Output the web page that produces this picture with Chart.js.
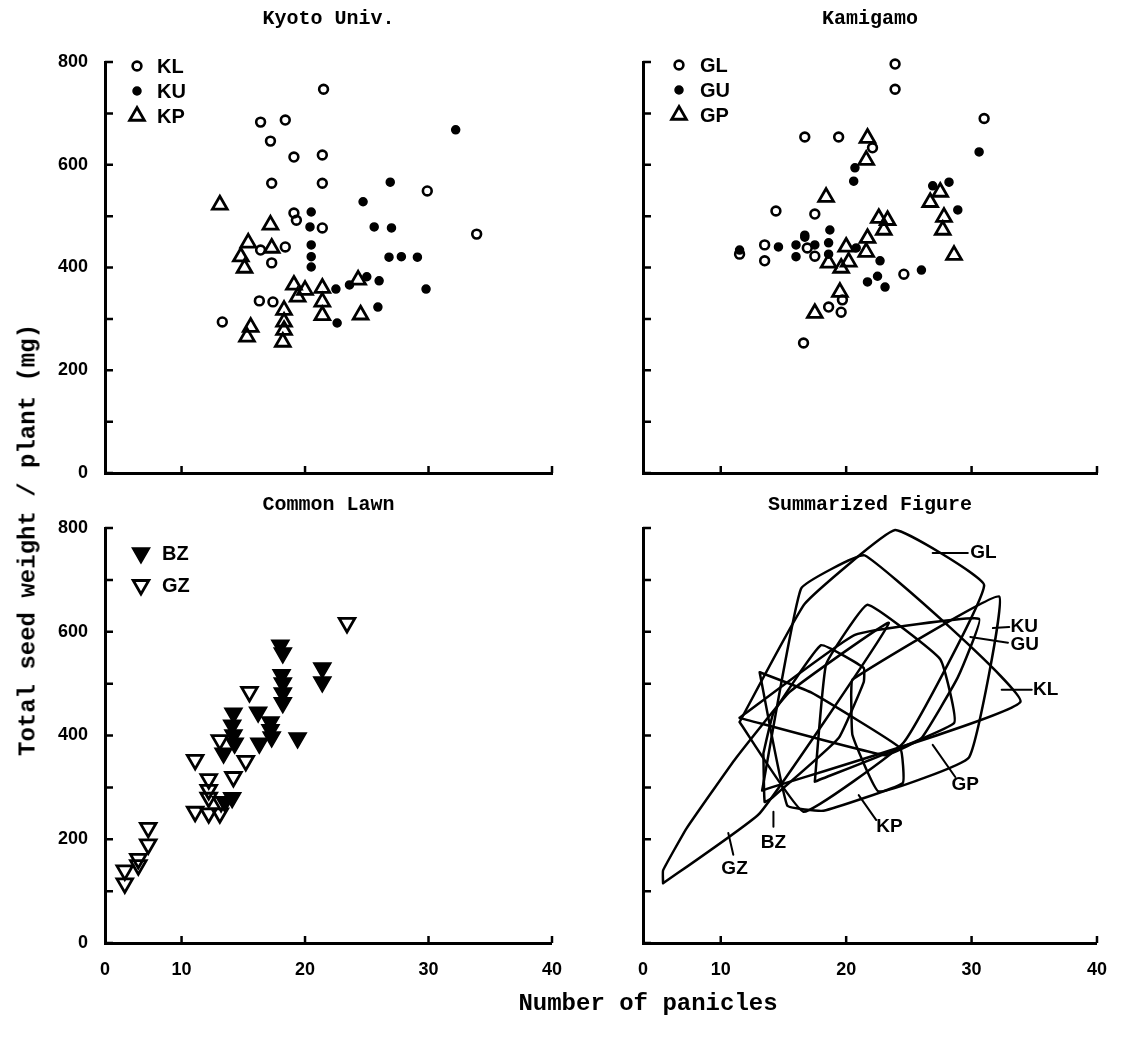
<!DOCTYPE html>
<html>
<head>
<meta charset="utf-8">
<script src="https://cdn.jsdelivr.net/npm/chart.js@4.4.1/dist/chart.umd.min.js"></script>
<style>
  body { margin: 0; background: #fff; }
  #fig { position: relative; width: 1138px; height: 1039px; background: #fff; overflow: hidden; }
  #fig canvas { position: absolute; }
  .axtitle { position: absolute; font-family: "Liberation Mono", monospace; font-weight: bold;
             font-size: 24px; color: #000; white-space: nowrap; transform: translate(-50%, -50%); }
</style>
</head>
<body>
<div id="fig">
  <canvas id="kyoto" width="540" height="493" style="left:30px;top:0"></canvas>
  <canvas id="kamigamo" width="515" height="493" style="left:600px;top:0"></canvas>
  <canvas id="lawn" width="540" height="517" style="left:30px;top:483px"></canvas>
  <canvas id="summary" width="515" height="517" style="left:600px;top:483px"></canvas>
  <div class="axtitle" style="left:28px;top:540px;transform:translate(-50%,-50%) rotate(-90deg)">Total seed weight / plant (mg)</div>
  <div class="axtitle" style="left:648px;top:1003px">Number of panicles</div>
</div>
<script>
// ---- data: [panicles, seed weight mg] ----
const KL = [[21.5,747],[16.4,683],[18.4,687],[17.2,646],[19.1,615],[21.4,619],[17.3,564],[21.4,564],
  [19.1,506],[19.3,492],[21.4,477],[16.4,434],[18.4,440],[17.3,409],[16.3,335],[17.4,333],[13.3,294],
  [29.9,549],[33.9,465]];
const KU = [[26.9,566],[24.7,528],[20.5,508],[20.4,479],[25.6,479],[27.0,477],[20.5,444],[20.5,421],
  [20.5,401],[26.8,420],[27.8,421],[29.1,420],[22.5,358],[23.6,366],[25.0,382],[26.0,374],[29.8,358],
  [25.9,323],[22.6,292],[32.2,668]];
const KP = [[13.1,522],[17.2,483],[15.4,448],[17.3,438],[14.8,421],[15.1,399],[19.1,366],[20.0,356],
  [19.4,343],[21.4,360],[21.4,333],[21.4,307],[24.3,376],[24.5,308],[18.3,317],[18.3,294],[18.3,278],
  [18.2,255],[15.6,284],[15.3,265]];

const GL = [[23.9,796],[23.9,747],[16.7,654],[19.4,654],[22.1,633],[14.4,510],[17.5,504],[13.5,444],
  [11.5,426],[13.5,413],[16.9,438],[17.5,422],[24.6,387],[19.7,337],[19.6,313],[18.6,323],[16.6,253],
  [31.0,690]];
const GU = [[20.7,594],[20.6,568],[18.7,473],[26.9,559],[28.2,566],[16.7,463],[18.6,448],[14.6,440],
  [16.0,444],[17.5,444],[11.5,434],[16.7,459],[16.0,421],[18.6,426],[20.8,438],[22.7,413],[21.7,372],
  [22.5,383],[23.1,362],[26.0,395],[30.6,625],[28.9,512]];
const GP = [[21.7,652],[21.6,609],[18.4,537],[26.7,527],[27.5,547],[27.8,498],[27.7,473],[22.6,496],
  [23.3,492],[23.0,473],[21.7,457],[18.6,409],[19.6,399],[20.0,440],[20.2,411],[21.6,430],[28.6,424],
  [19.5,352],[17.5,311]];

const BZ = [[18.0,574],[18.2,559],[21.4,530],[21.4,503],[18.1,517],[18.2,501],[18.2,482],[18.2,463],
  [16.2,445],[17.2,426],[17.2,411],[17.3,397],[16.3,385],[19.4,395],[14.2,443],[14.1,420],[14.2,401],
  [14.3,385],[13.4,366],[14.1,280],[13.5,272]];
const GZ = [[23.4,617],[15.5,484],[13.1,391],[11.1,353],[15.2,351],[14.2,320],[12.2,316],[12.2,295],
  [13.2,272],[12.2,280],[11.1,253],[12.2,250],[13.1,250],[7.3,222],[7.3,190],[6.5,162],[6.5,150],
  [5.4,140],[5.4,115]];

// summarized figure: labels and their leader lines
const summaryNames = ["GL", "KU", "GU", "KL", "GP", "KP", "BZ", "GZ"];
const leaderStart = [[26.9,752],[31.7,607],[29.9,590],[32.4,488],[26.9,382],[21.0,285],[14.2,253],[10.6,212]];
const leaderEnd   = [[29.7,752],[33.0,609],[32.9,579],[34.8,488],[28.7,320],[22.4,237],[14.2,224],[11.0,170]];
const labelPos    = [[29.9,752],[33.1,609],[33.1,575],[34.9,488],[28.4,305],[22.4,224],[14.2,193],[11.1,143]];
const labelAlign  = ["left","left","left","left","left","left","center","center"];

// axes
const X_MIN = 3.8, X_MAX = 40;
const xTicks = [10, 20, 30, 40];
const yTicks = [0, 100, 200, 300, 400, 500, 600, 700, 800];

const FONT_TICK = { family: "Liberation Sans", weight: "bold", size: 18 };
const FONT_TITLE = { family: "Liberation Mono", weight: "bold", size: 20 };

const toXY = (arr) => arr.map(([x, y]) => ({ x, y }));

// convex hull (monotone chain) of a series, closed
function hull(arr) {
  const p = toXY(arr).sort((a, b) => a.x - b.x || a.y - b.y);
  const cross = (o, a, b) => (a.x - o.x) * (b.y - o.y) - (a.y - o.y) * (b.x - o.x);
  const lower = [], upper = [];
  for (const q of p) {
    while (lower.length >= 2 && cross(lower[lower.length - 2], lower[lower.length - 1], q) <= 0) lower.pop();
    lower.push(q);
  }
  for (const q of p.slice().reverse()) {
    while (upper.length >= 2 && cross(upper[upper.length - 2], upper[upper.length - 1], q) <= 0) upper.pop();
    upper.push(q);
  }
  lower.pop(); upper.pop();
  const h = lower.concat(upper);
  h.push(h[0]);
  return h;
}

// marker styles
const openCircle = { pointStyle: "circle", pointRadius: 4.4, pointBorderWidth: 2.6,
  pointBackgroundColor: "rgba(0,0,0,0)", pointBorderColor: "#000" };
const dot = { pointStyle: "circle", pointRadius: 4, pointBorderWidth: 1.5,
  pointBackgroundColor: "#000", pointBorderColor: "#000" };
const openTri = { pointStyle: "triangle", pointRadius: 8.5, pointBorderWidth: 2.8,
  pointBackgroundColor: "rgba(0,0,0,0)", pointBorderColor: "#000" };
const fillDown = { pointStyle: "triangle", pointRadius: 10, pointBorderWidth: 1.5, pointRotation: 180,
  pointBackgroundColor: "#000", pointBorderColor: "#000" };
const openDown = { pointStyle: "triangle", pointRadius: 9, pointBorderWidth: 2.8, pointRotation: 180,
  pointBackgroundColor: "rgba(0,0,0,0)", pointBorderColor: "#000" };

function series(label, arr, style) {
  return Object.assign({ label, data: toXY(arr), showLine: false, clip: false }, style);
}

// inward tick marks along the two axes
const inTicks = {
  id: "inTicks",
  afterDraw(chart) {
    const { ctx, chartArea: a, scales: { x, y } } = chart;
    ctx.save();
    ctx.strokeStyle = "#000";
    ctx.lineWidth = 2.5;
    ctx.beginPath();
    yTicks.forEach((v) => {
      const p = y.getPixelForValue(v);
      ctx.moveTo(a.left, p); ctx.lineTo(a.left + 8, p);
    });
    xTicks.forEach((v) => {
      const p = x.getPixelForValue(v);
      ctx.moveTo(p, a.bottom); ctx.lineTo(p, a.bottom - 7);
    });
    ctx.stroke();
    ctx.restore();
  }
};

// legend drawn inside the plot, top-left
const innerLegend = {
  id: "innerLegend",
  afterDatasetsDraw(chart, args, opts) {
    if (!opts || !opts.show) return;
    const { ctx, chartArea: a } = chart;
    ctx.save();
    ctx.font = 'bold 20px "Liberation Sans"';
    ctx.textBaseline = "middle";
    chart.data.datasets.forEach((ds, i) => {
      const cx = a.left + opts.x, cy = a.top + opts.y + i * opts.gap;
      ctx.fillStyle = ds.pointBackgroundColor;
      ctx.strokeStyle = ds.pointBorderColor;
      ctx.lineWidth = ds.pointBorderWidth;
      Chart.helpers.drawPoint(ctx, {
        pointStyle: ds.pointStyle, radius: ds.pointRadius,
        borderWidth: ds.pointBorderWidth, rotation: ds.pointRotation || 0
      }, cx, cy);
      ctx.fillStyle = "#000";
      ctx.fillText(ds.label, a.left + opts.textX, cy + 1);
    });
    ctx.restore();
  }
};

// names beside the hulls in the summarized figure
const hullLabels = {
  id: "hullLabels",
  afterDatasetsDraw(chart, args, opts) {
    if (!opts || !opts.show) return;
    const { ctx, scales: { x, y } } = chart;
    ctx.save();
    ctx.font = 'bold 19px "Liberation Sans"';
    ctx.fillStyle = "#000";
    ctx.textBaseline = "middle";
    summaryNames.forEach((n, i) => {
      ctx.textAlign = labelAlign[i];
      ctx.fillText(n, x.getPixelForValue(labelPos[i][0]), y.getPixelForValue(labelPos[i][1]));
    });
    ctx.restore();
  }
};

function makePanel(id, title, datasets, o) {
  return new Chart(document.getElementById(id), {
    type: "scatter",
    data: { datasets },
    plugins: [inTicks, innerLegend, hullLabels],
    options: {
      responsive: false,
      animation: false,
      layout: { padding: { right: 18 } },
      scales: {
        x: {
          type: "linear", min: X_MIN, max: X_MAX,
          grid: { display: false },
          border: { display: true, color: "#000", width: 3 },
          afterBuildTicks: (scale) => {
            scale.ticks = [X_MIN].concat(xTicks).map((v) => ({ value: v }));
          },
          ticks: {
            display: o.xLabels, color: "#000", font: FONT_TICK, padding: 8,
            maxRotation: 0, autoSkip: false,
            callback: (v) => (v === X_MIN ? "0" : v)
          },
          afterFit: (scale) => { scale.height = o.xHeight; }
        },
        y: {
          type: "linear", min: 0, max: 800,
          grid: { display: false },
          border: { display: true, color: "#000", width: 3 },
          afterBuildTicks: (scale) => {
            scale.ticks = yTicks.map((v) => ({ value: v }));
          },
          ticks: {
            display: o.yLabels, color: "#000", font: FONT_TICK, padding: 9,
            callback: (v) => (v % 200 === 0 ? v : "")
          },
          afterFit: (scale) => { scale.width = o.yWidth; }
        }
      },
      plugins: {
        legend: { display: false },
        tooltip: { enabled: false },
        title: {
          display: true, text: title, color: "#000", font: FONT_TITLE,
          fullSize: false, padding: o.titlePad
        },
        innerLegend: o.legend || { show: false },
        hullLabels: { show: !!o.hullLabels }
      }
    }
  });
}

makePanel("kyoto", "Kyoto Univ.", [
  series("KL", KL, openCircle),
  series("KU", KU, dot),
  series("KP", KP, openTri)
], { xLabels: false, yLabels: true, xHeight: 20, yWidth: 75,
     titlePad: { top: 7, bottom: 31 },
     legend: { show: true, x: 32, y: 4, gap: 25, textX: 52 } });

makePanel("kamigamo", "Kamigamo", [
  series("GL", GL, openCircle),
  series("GU", GU, dot),
  series("GP", GP, openTri)
], { xLabels: false, yLabels: false, xHeight: 20, yWidth: 43,
     titlePad: { top: 7, bottom: 31 },
     legend: { show: true, x: 36, y: 3, gap: 25, textX: 57 } });

makePanel("lawn", "Common Lawn", [
  series("BZ", BZ, fillDown),
  series("GZ", GZ, openDown)
], { xLabels: true, yLabels: true, xHeight: 57, yWidth: 75,
     titlePad: { top: 10, bottom: 11 },
     legend: { show: true, x: 36, y: 25, gap: 32, textX: 57 } });

// summarized figure: one closed outline per series, plus leader lines
const hullStyle = { showLine: true, pointRadius: 0, borderColor: "#000", borderWidth: 2.5,
  borderJoinStyle: "round", borderCapStyle: "round", tension: 0.1, clip: false };
const summarySets = [KL, KU, KP, GL, GU, GP, BZ, GZ].map((arr) =>
  Object.assign({ data: hull(arr) }, hullStyle));
leaderStart.forEach((s, i) => {
  summarySets.push(Object.assign({}, hullStyle, { borderWidth: 2, tension: 0,
    data: toXY([s, leaderEnd[i]]) }));
});

makePanel("summary", "Summarized Figure", summarySets,
  { xLabels: true, yLabels: false, xHeight: 57, yWidth: 43,
    titlePad: { top: 10, bottom: 11 }, hullLabels: true });
</script>
</body>
</html>
